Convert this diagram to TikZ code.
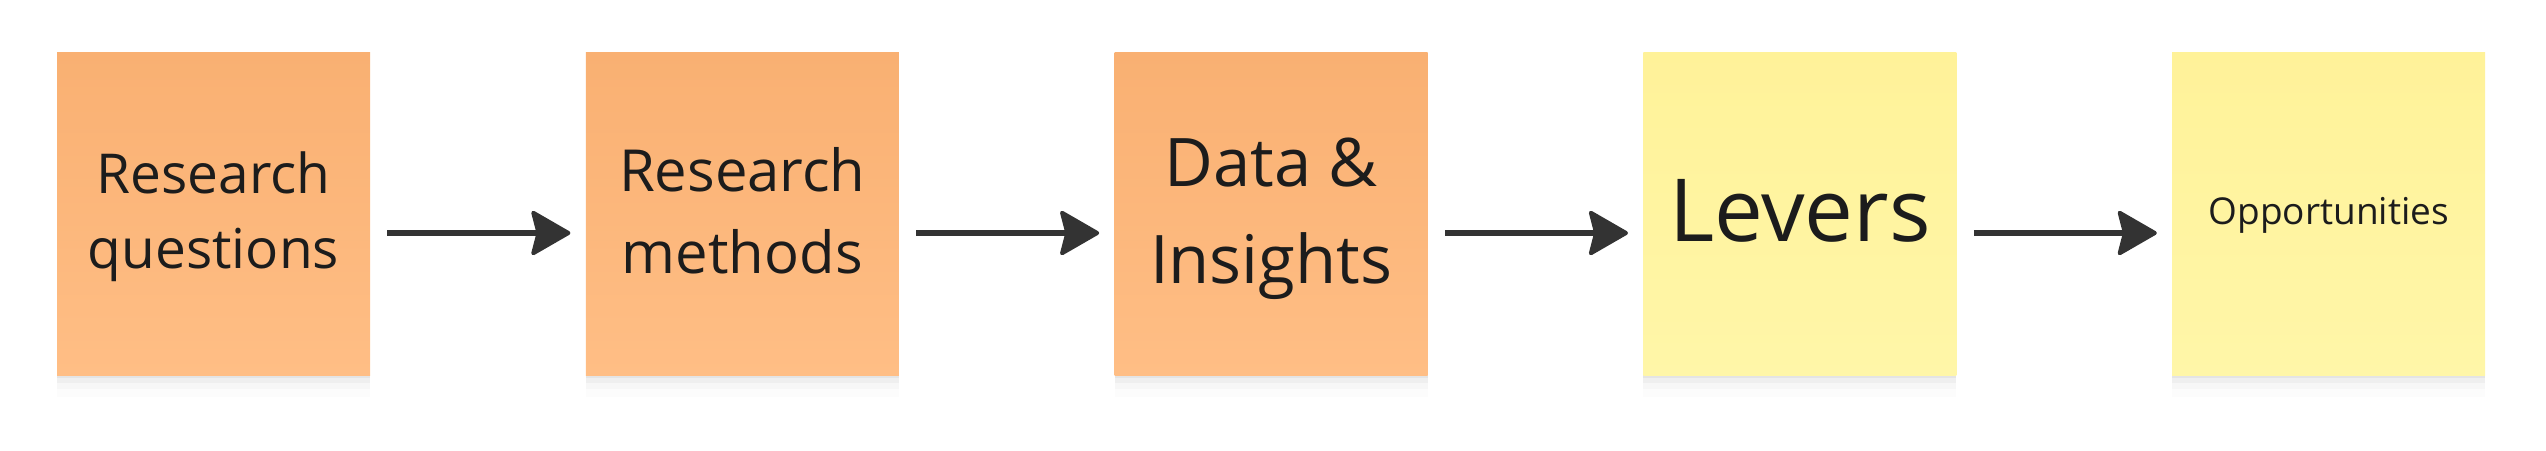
\documentclass[tikz,border=0pt]{standalone}
\usepackage{fontspec}
\setmainfont{Open Sans}
\usepackage{xcolor}
\usepackage{tikz}
\usetikzlibrary{arrows.meta,positioning,shadows}
\definecolor{ink}{HTML}{1C1C1C}
\definecolor{flow}{HTML}{333333}
\definecolor{orgtop}{HTML}{F9B072}
\definecolor{orgbot}{HTML}{FFBE85}
\definecolor{yeltop}{HTML}{FFF299}
\definecolor{yelbot}{HTML}{FFF6A8}
\tikzset{
  note/.style={minimum width=156.5pt, minimum height=161.5pt, inner sep=0pt,
               align=center, text=ink, text depth=3pt,
               general shadow={fill=black, opacity=.045, shadow yshift=-1.5pt},
               general shadow={fill=black, opacity=.03, shadow yshift=-4pt},
               general shadow={fill=black, opacity=.02, shadow yshift=-7pt},
               general shadow={fill=black, opacity=.012, shadow yshift=-11pt}},
  orgn/.style={note, top color=orgtop, bottom color=orgbot},
  yeln/.style={note, top color=yeltop, bottom color=yelbot},
  ar/.style={-{Stealth[length=21pt,width=24pt,inset=3pt,line width=2pt,round,fill=flow]},
             line width=3pt, draw=flow},
}

\begin{document}
\begin{tikzpicture}[node distance=107.5pt]
  \useasboundingbox (0,0) rectangle (1273pt,-225pt);
  % --- research ---
  \node[orgn, font=\fontsize{27.5pt}{37.5pt}\selectfont] (rq) at (106.75pt,-106.75pt)
       {Research\\questions};
  \node[orgn, font=\fontsize{29pt}{41pt}\selectfont, right=of rq] (rm)
       {Research\\methods};
  \node[orgn, font=\fontsize{33.5pt}{48.5pt}\selectfont, right=of rm] (di)
       {Data \&\\Insights};

  % --- outcomes ---
  \node[yeln, font=\fontsize{43.5pt}{52pt}\selectfont, right=of di] (lv)
       {Levers};
  \node[yeln, font=\fontsize{18.5pt}{24pt}\selectfont, right=of lv] (op)
       {Opportunities};

  \foreach \a/\b in {rq/rm,rm/di,di/lv,lv/op}
    \draw[ar] ([xshift=8.5pt,yshift=-9.75pt]\a.east) -- ([xshift=-7.5pt,yshift=-9.75pt]\b.west);
\end{tikzpicture}
\end{document}
